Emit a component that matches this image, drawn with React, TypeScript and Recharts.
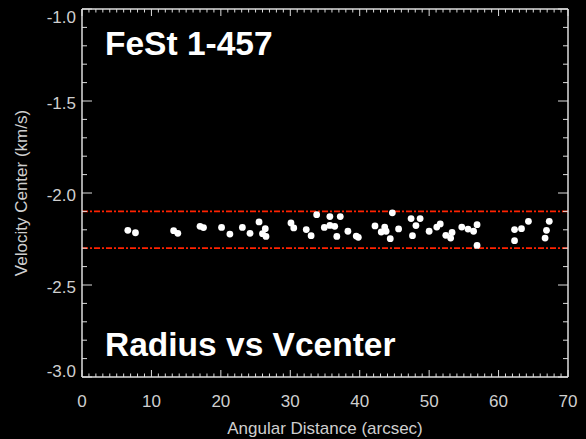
import React from 'react';
import { ScatterChart, Scatter, XAxis, YAxis, ReferenceLine } from 'recharts';

// angular distance (arcsec) and velocity center (km/s)
const distance = [
  6.6, 7.7, 13.2, 13.8, 17.0, 17.5, 20.1, 21.3, 23.1, 24.2,
  25.5, 26.4, 26.0, 26.5, 30.1, 30.5, 32.3, 33.0, 33.8, 34.9,
  35.7, 35.7, 36.4, 37.2, 36.7, 38.3, 39.5, 39.8, 42.2, 43.1,
  43.6, 43.8, 44.4, 44.7, 45.6, 47.4, 48.7, 48.1, 47.6, 50.0,
  51.1, 51.6, 52.4, 53.1, 53.3, 54.7, 55.6, 56.4, 56.9, 56.9,
  62.3, 62.3, 63.3, 64.3, 66.9, 66.7, 67.3,
];
const vcenter = [
  -2.203, -2.216, -2.205, -2.219, -2.181, -2.188, -2.187, -2.223, -2.187, -2.219,
  -2.157, -2.194, -2.221, -2.236, -2.163, -2.19, -2.199, -2.232, -2.118, -2.187,
  -2.128, -2.176, -2.181, -2.128, -2.236, -2.208, -2.234, -2.241, -2.179, -2.212,
  -2.185, -2.208, -2.248, -2.108, -2.195, -2.139, -2.139, -2.177, -2.232, -2.208,
  -2.185, -2.168, -2.23, -2.245, -2.214, -2.185, -2.196, -2.208, -2.172, -2.285,
  -2.199, -2.259, -2.194, -2.154, -2.203, -2.245, -2.154,
];

const limits = [-2.1, -2.3];
const xMajor = [0, 10, 20, 30, 40, 50, 60, 70];
const yMajor = [-3.0, -2.5, -2.0, -1.5, -1.0];

const xTicks = Array.from({ length: 71 }, (_, i) => i);
const yTicks = Array.from({ length: 21 }, (_, i) => Math.round((-3 + i * 0.1) * 10) / 10);

const data = distance.map((d, i) => ({ d, v: vcenter[i] }));

const LABEL = '#cfcfcf';
const AXIS = '#dddddd';
const FONT = '"Liberation Sans", Arial, sans-serif';

const isMajorX = (v: number) => xMajor.includes(v);
const isMajorY = (v: number) => yMajor.some((m) => Math.abs(m - v) < 1e-6);

const BottomTick = (p: any) => {
  const v = p.payload.value;
  const major = isMajorX(v);
  return (
    <g>
      <line x1={p.x} x2={p.x} y1={p.y} y2={p.y - (major ? 7 : 3.5)} stroke={AXIS} strokeWidth={1} />
      {major && (
        <text x={p.x} y={p.y + 30} textAnchor="middle" fill={LABEL} fontSize={17} fontFamily={FONT}>
          {v}
        </text>
      )}
    </g>
  );
};

const TopTick = (p: any) => {
  const v = p.payload.value;
  const major = isMajorX(v);
  return <line x1={p.x} x2={p.x} y1={p.y} y2={p.y + (major ? 7 : 3.5)} stroke={AXIS} strokeWidth={1} />;
};

const LeftTick = (p: any) => {
  const v = p.payload.value;
  const major = isMajorY(v);
  let dy = 8;
  if (Math.abs(v + 1) < 1e-6) dy = 14;
  if (Math.abs(v + 3) < 1e-6) dy = 0;
  return (
    <g>
      <line x1={p.x} x2={p.x + (major ? 10 : 5)} y1={p.y} y2={p.y} stroke={AXIS} strokeWidth={1} />
      {major && (
        <text x={p.x - 6} y={p.y + dy} textAnchor="end" fill={LABEL} fontSize={17} fontFamily={FONT}>
          {v.toFixed(1)}
        </text>
      )}
    </g>
  );
};

const RightTick = (p: any) => {
  const v = p.payload.value;
  const major = isMajorY(v);
  return <line x1={p.x} x2={p.x - (major ? 10 : 5)} y1={p.y} y2={p.y} stroke={AXIS} strokeWidth={1} />;
};

const Dot = (p: any) => <circle cx={p.cx} cy={p.cy} r={3.4} fill="#ffffff" />;

export default function App() {
  return (
    <div style={{ position: 'absolute', left: 0, top: 0, width: 586, height: 439, background: '#000' }}>
      <ScatterChart width={586} height={439} margin={{ top: 8, right: 17, bottom: 0, left: 0 }}>
        <XAxis
          xAxisId="b"
          dataKey="d"
          type="number"
          domain={[0, 70]}
          ticks={xTicks}
          interval={0}
          allowDataOverflow
          height={62}
          tickSize={0}
          tickMargin={0}
          tickLine={false}
          axisLine={{ stroke: AXIS, strokeWidth: 1.5 }}
          tick={<BottomTick />}
          label={{ value: 'Angular Distance (arcsec)', position: 'insideBottom', offset: 5, fill: LABEL, fontSize: 17, fontFamily: FONT }}
        />
        <XAxis
          xAxisId="t"
          orientation="top"
          dataKey="d"
          type="number"
          domain={[0, 70]}
          ticks={xTicks}
          interval={0}
          allowDataOverflow
          height={1}
          tickSize={0}
          tickMargin={0}
          tickLine={false}
          axisLine={{ stroke: AXIS, strokeWidth: 1.5 }}
          tick={<TopTick />}
        />
        <YAxis
          yAxisId="l"
          dataKey="v"
          type="number"
          domain={[-3, -1]}
          ticks={yTicks}
          interval={0}
          allowDataOverflow
          width={82}
          tickSize={0}
          tickMargin={0}
          tickLine={false}
          axisLine={{ stroke: AXIS, strokeWidth: 1.5 }}
          tick={<LeftTick />}
          label={{ value: 'Velocity Center (km/s)', angle: -90, position: 'insideLeft', offset: 21, fill: LABEL, fontSize: 17, fontFamily: FONT, style: { textAnchor: 'middle' } }}
        />
        <YAxis
          yAxisId="r"
          orientation="right"
          dataKey="v"
          type="number"
          domain={[-3, -1]}
          ticks={yTicks}
          interval={0}
          allowDataOverflow
          width={1}
          tickSize={0}
          tickMargin={0}
          tickLine={false}
          axisLine={{ stroke: AXIS, strokeWidth: 1.5 }}
          tick={<RightTick />}
        />
        {limits.map((y) => (
          <ReferenceLine
            key={y}
            xAxisId="b"
            yAxisId="l"
            y={y}
            stroke="#ff2200"
            strokeWidth={1.8}
            strokeDasharray="6 2 2 2"
          />
        ))}
        <Scatter data={data} xAxisId="t" yAxisId="r" shape={() => <g />} isAnimationActive={false} />
        <Scatter data={data} xAxisId="b" yAxisId="l" shape={Dot} isAnimationActive={false} />
      </ScatterChart>
      <svg width={586} height={439} style={{ position: 'absolute', left: 0, top: 0, pointerEvents: 'none' }}>
        <text x={105} y={55} fill="#ffffff" fontSize={33.5} fontWeight="bold" fontFamily={FONT}>
          FeSt 1-457
        </text>
        <text x={105} y={356} fill="#ffffff" fontSize={33.5} fontWeight="bold" fontFamily={FONT}>
          Radius vs Vcenter
        </text>
      </svg>
    </div>
  );
}
